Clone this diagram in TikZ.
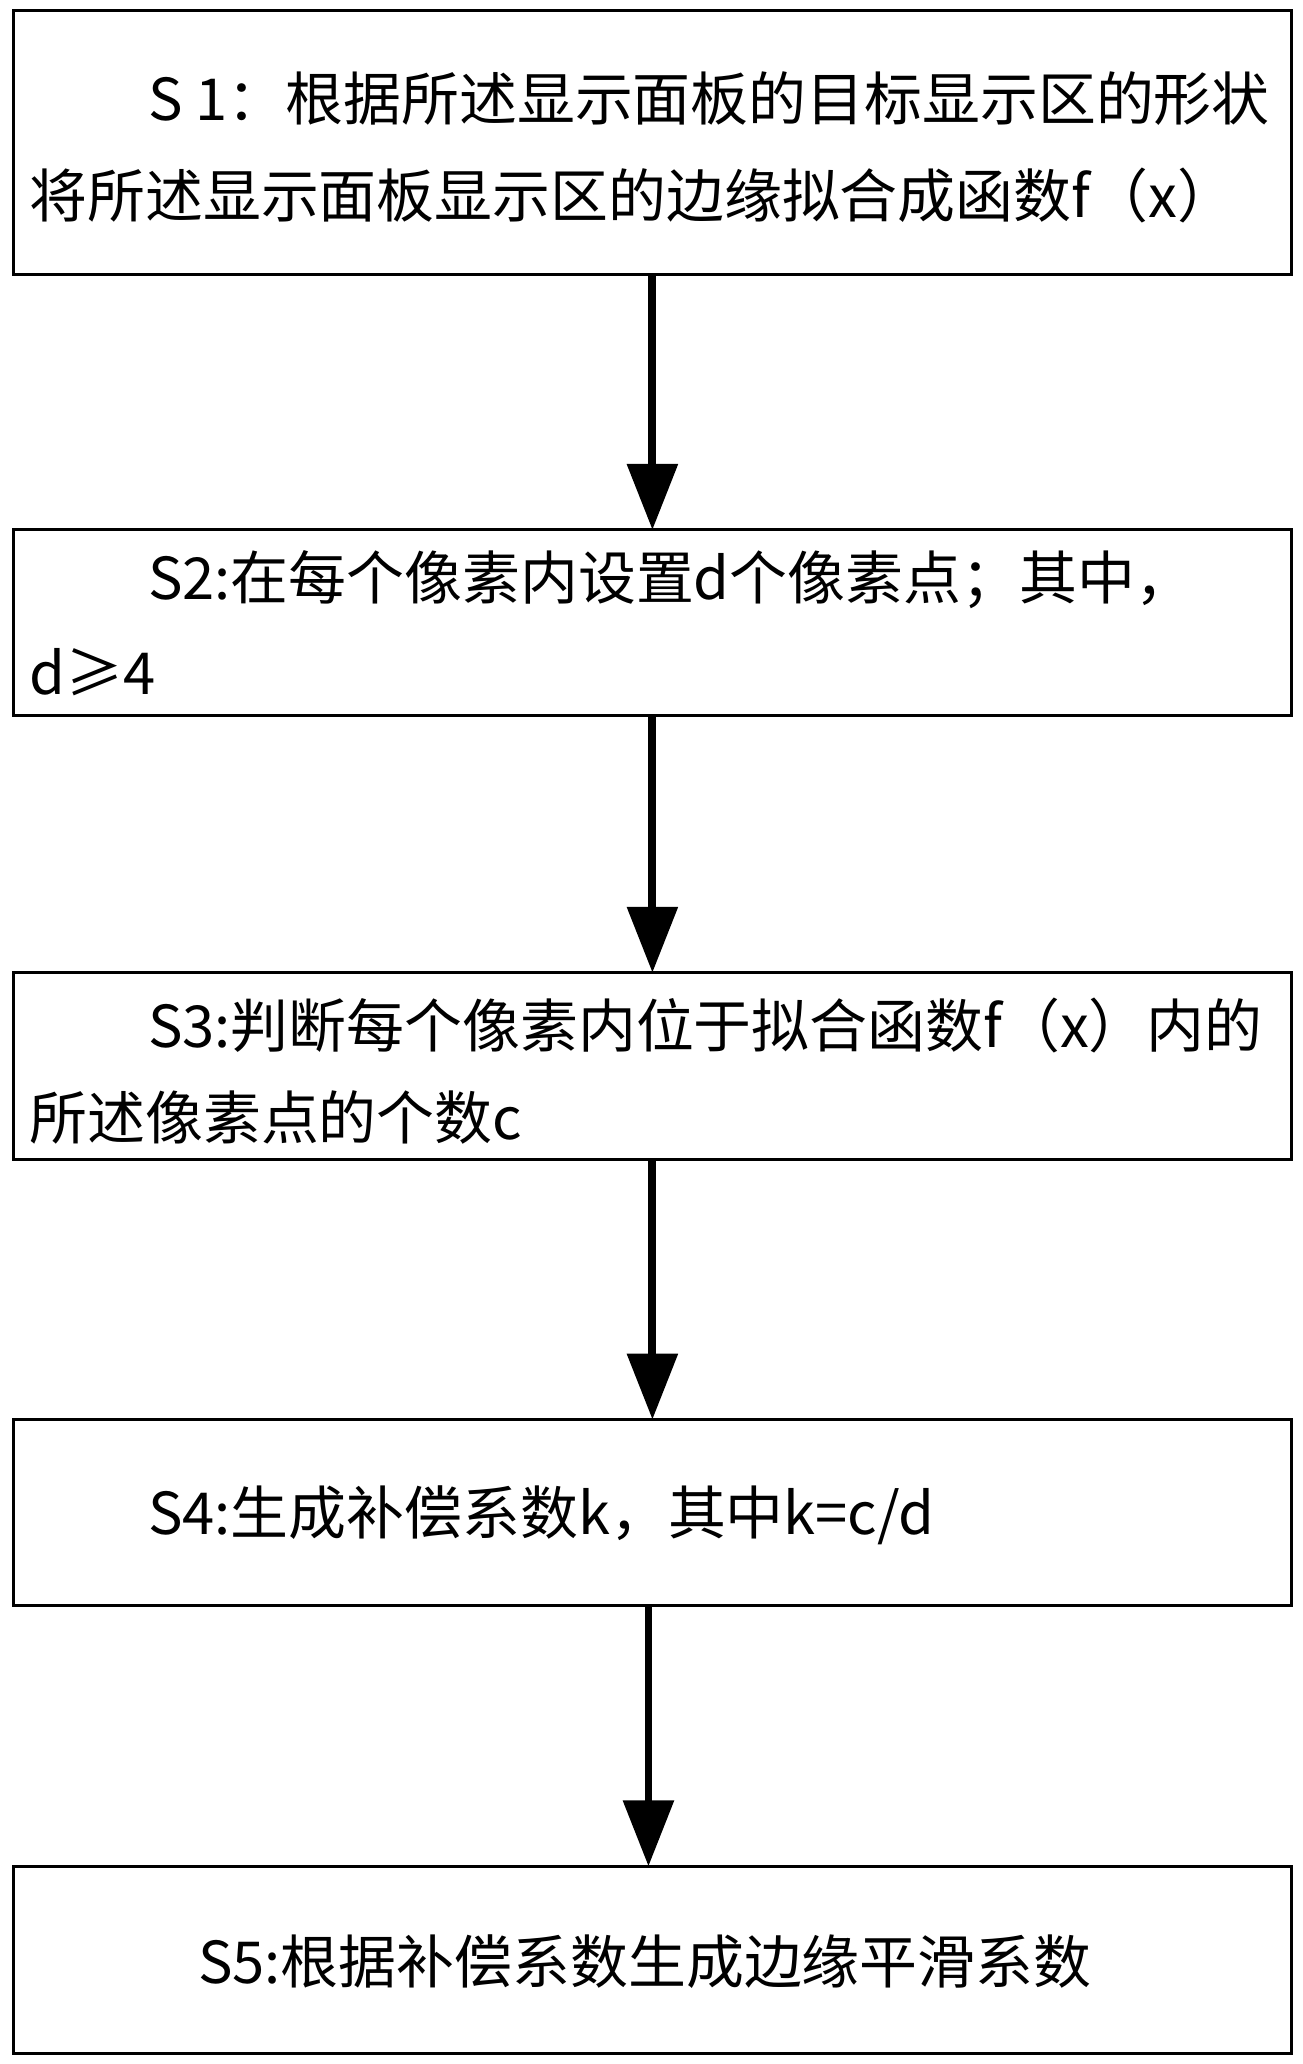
\documentclass[tikz,border=0pt]{standalone}
\usepackage{fontspec}
\setmainfont{Noto Sans CJK SC}
\usetikzlibrary{arrows.meta}
\begin{document}
\begin{tikzpicture}[x=0.02cm,y=-0.02cm,
  box/.style={draw,line width=1.2pt},
  txt/.style={anchor=west,inner sep=0,font=\fontsize{25}{25}\selectfont},
  arr/.style={line width=3.4pt,-{Triangle[length=1cm,width=0.75cm]}}]
\useasboundingbox (0,0) rectangle (988,1566);
\draw[box] (10,8) rectangle (980,208);
\coordinate (b1t) at (495,208);
\draw[box] (10,402) rectangle (980,543);
\coordinate (b2t) at (495,402); \coordinate (b2b) at (495,543);
\draw[box] (10,738) rectangle (980,880);
\coordinate (b3t) at (495,738); \coordinate (b3b) at (495,880);
\draw[box] (10,1077) rectangle (980,1218);
\coordinate (b4t) at (495,1077); \coordinate (b4b) at (492,1218);
\draw[box] (10,1416) rectangle (980,1558);
\coordinate (b5t) at (492,1416);
\node[txt] (t1a) at (112,75) {S 1：根据所述显示面板的目标显示区的形状};
\node[txt] (t1b) at (22,148) {将所述显示面板显示区的边缘拟合成函数f（x）};
\node[txt] (t2a) at (112,440) {S2:在每个像素内设置d个像素点；其中，};
\node[txt] (t2b) at (22,510) {d≥4};
\node[txt] (t3a) at (112,778) {S3:判断每个像素内位于拟合函数f（x）内的};
\node[txt] (t3b) at (22,848) {所述像素点的个数c};
\node[txt] (t4) at (112,1150) {S4:生成补偿系数k，其中k=c/d};
\node[txt] (t5) at (150,1488) {S5:根据补偿系数生成边缘平滑系数};
\draw[arr] (b1t) -- (b2t);
\draw[arr] (b2b) -- (b3t);
\draw[arr] (b3b) -- (b4t);
\draw[arr] (b4b) -- (b5t);
\end{tikzpicture}
\end{document}
